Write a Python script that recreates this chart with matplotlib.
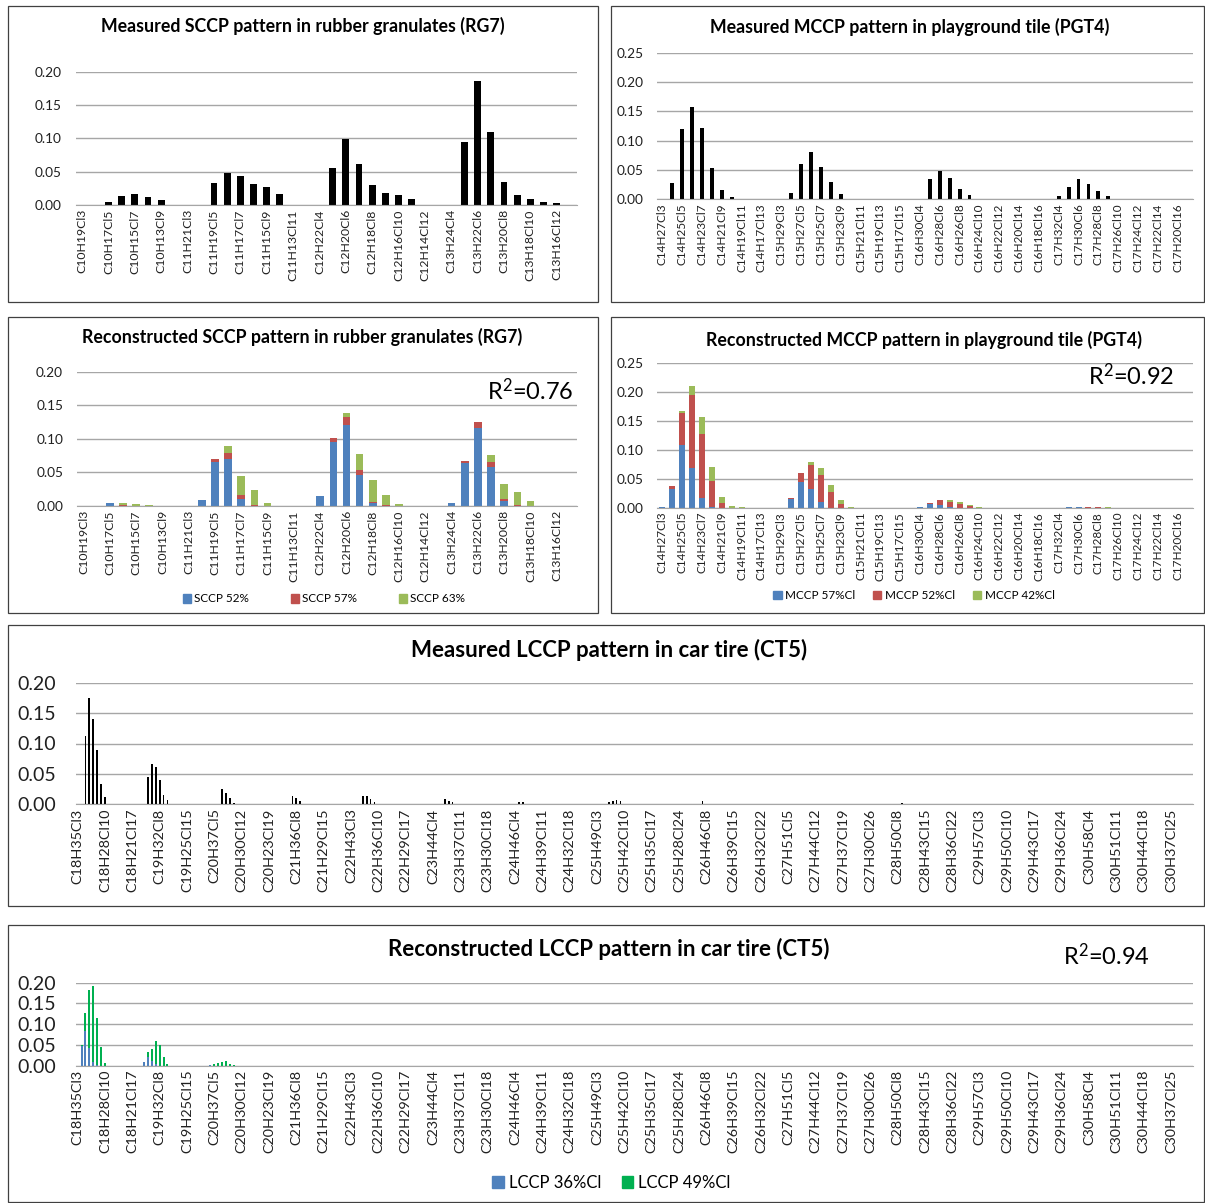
import matplotlib
matplotlib.use("Agg")
import matplotlib.pyplot as plt
from matplotlib.patches import Rectangle, Patch
import numpy as np

W, H = 1205, 1203
plt.rcParams["font.family"] = ["Lato", "DejaVu Sans"]
plt.rcParams["mathtext.fontset"] = "custom"
plt.rcParams["mathtext.rm"] = "Lato"
plt.rcParams["mathtext.it"] = "Lato"

# ---- data, keyed by chain length: (first Cl number, values)
sccp_measured = {
    10: (5, [0.005, 0.0135, 0.0165, 0.0115, 0.0075]),
    11: (5, [0.0325, 0.0485, 0.043, 0.031, 0.027, 0.017]),
    12: (5, [0.055, 0.099, 0.061, 0.030, 0.018, 0.0145, 0.009]),
    13: (5, [0.094, 0.1855, 0.109, 0.034, 0.015, 0.009, 0.005, 0.003]),
}
sccp52 = {
    10: (5, [0.0045]),
    11: (4, [0.009, 0.066, 0.070, 0.010]),
    12: (4, [0.015, 0.096, 0.1205, 0.0457, 0.004]),
    13: (4, [0.004, 0.064, 0.1156, 0.0576, 0.007]),
}
sccp57 = {
    10: (6, [0.001]),
    11: (5, [0.004, 0.009, 0.006, 0.001]),
    12: (5, [0.005, 0.012, 0.0083, 0.0025, 0.001]),
    13: (5, [0.003, 0.0094, 0.0084, 0.0034, 0.001]),
}
sccp63 = {
    10: (5, [0.0005, 0.003, 0.0035, 0.0015, 0.0005]),
    11: (6, [0.011, 0.029, 0.023, 0.004, 0.0005]),
    12: (6, [0.0065, 0.0235, 0.032, 0.016, 0.003]),
    13: (7, [0.010, 0.0226, 0.020, 0.0075, 0.0005]),
}

mccp_measured = {
    14: (4, [0.027, 0.120, 0.158, 0.121, 0.053, 0.016, 0.0045]),
    15: (4, [0.011, 0.061, 0.080, 0.0545, 0.030, 0.009]),
    16: (5, [0.034, 0.048, 0.037, 0.018, 0.0068, 0.001]),
    17: (4, [0.005, 0.0216, 0.034, 0.026, 0.0148, 0.0057]),
}
mccp57 = {
    14: (3, [0.001, 0.032, 0.1086, 0.069, 0.017, 0.001]),
    15: (4, [0.015, 0.045, 0.033, 0.0103]),
    16: (4, [0.002, 0.007, 0.005, 0.001]),
    17: (5, [0.0005, 0.0005]),
}
mccp52 = {
    14: (4, [0.005, 0.055, 0.126, 0.1106, 0.045, 0.0086]),
    15: (4, [0.0017, 0.015, 0.041, 0.0467, 0.0264, 0.007]),
    16: (5, [0.001, 0.0076, 0.009, 0.007, 0.0026]),
    17: (6, [0.0005, 0.0012, 0.001]),
}
mccp42 = {
    14: (5, [0.003, 0.015, 0.029, 0.025, 0.0094, 0.003, 0.0005]),
    15: (6, [0.005, 0.011, 0.0126, 0.0056, 0.0017]),
    16: (7, [0.0026, 0.003, 0.002, 0.001]),
    17: (7, [0.0008, 0.001, 0.0005]),
}

lccp_measured = {
    18: (5, [0.113, 0.175, 0.141, 0.0885, 0.033, 0.0115]),
    19: (5, [0.0445, 0.067, 0.061, 0.0396, 0.0154, 0.0066]),
    20: (7, [0.0247, 0.018, 0.0099, 0.0027]),
    21: (7, [0.0143, 0.0104, 0.005]),
    22: (6, [0.0137, 0.0132, 0.0093, 0.0038]),
    23: (7, [0.0088, 0.005, 0.0033]),
    24: (5, [0.003, 0.003]),
    25: (6, [0.003, 0.005, 0.0066, 0.006]),
    26: (7, [0.005]),
    28: (8, [0.0012, 0.0015]),
}
lccp36 = {
    18: (4, [0.047, 0.083, 0.0416, 0.008, 0.0016]),
    19: (4, [0.008, 0.022, 0.0104, 0.003]),
    20: (4, [0.001]),
}
lccp49 = {
    18: (4, [0.0026, 0.044, 0.1414, 0.183, 0.1134, 0.045, 0.0064]),
    19: (5, [0.010, 0.0296, 0.056, 0.0496, 0.0216, 0.003]),
    20: (5, [0.003, 0.0055, 0.009, 0.011, 0.005, 0.0015]),
}


def congeners(c_from, c_to):
    return [f"C{c}H{2 * c + 2 - cl}Cl{cl}" for c in range(c_from, c_to + 1) for cl in range(3, c + 1)]


def fill(cats, groups):
    out = np.zeros(len(cats))
    for c, (cl0, vals) in groups.items():
        for k, v in enumerate(vals):
            cl = cl0 + k
            out[cats.index(f"C{c}H{2 * c + 2 - cl}Cl{cl}")] = v
    return out


sccp_cats = congeners(10, 13)
mccp_cats = congeners(14, 17)
lccp_cats = congeners(18, 30)

BLUE, RED, GREEN = "#4F81BD", "#C0504D", "#9BBB59"
LGREEN = "#00B050"
GRID = "#a6a6a6"

fig = plt.figure(figsize=(W / 100, H / 100), dpi=100)


def box(x0, y0, x1, y1):
    fig.add_artist(Rectangle((x0 / W, 1 - y1 / H), (x1 - x0) / W, (y1 - y0) / H,
                             transform=fig.transFigure, fill=False, edgecolor="#404040", lw=0.9))


def make_ax(x0, x1, ytop, ybot, cats, ymax, step, xfs, yfs, ypad):
    ax = fig.add_axes([x0 / W, 1 - ybot / H, (x1 - x0) / W, (ybot - ytop) / H])
    ax.set_xlim(-0.5, len(cats) - 0.5)
    ax.set_ylim(0, ymax)
    ax.set_yticks(np.arange(0, ymax + 0.001, 0.05))
    ax.yaxis.set_major_formatter(matplotlib.ticker.FormatStrFormatter("%.2f"))
    ax.set_xticks(range(0, len(cats), step))
    ax.set_xticklabels(cats[::step], rotation=90, fontsize=xfs, color="#202020")
    ax.tick_params(axis="y", labelsize=yfs, length=0, pad=ypad, labelcolor="#202020")
    ax.tick_params(axis="x", length=0, pad=3)
    for s in ["top", "right", "left"]:
        ax.spines[s].set_visible(False)
    ax.spines["bottom"].set_color(GRID)
    ax.grid(axis="y", color=GRID, lw=1)
    ax.set_axisbelow(True)
    return ax


def stacked(ax, cats, series, colors, width):
    x = np.arange(len(cats))
    bottom = np.zeros(len(cats))
    for s, c in zip(series, colors):
        v = fill(cats, s)
        ax.bar(x, v, width, bottom=bottom, color=c, edgecolor="none")
        bottom += v


# panel frames
box(8, 6, 598, 302)
box(611, 6, 1204, 302)
box(8, 317, 598, 613)
box(611, 317, 1204, 613)
box(8, 625, 1204, 906)
box(8, 925, 1204, 1202)

# measured SCCP
ax1 = make_ax(75.5, 576.5, 71.7, 205, sccp_cats, 0.20, 2, 8.8, 9.8, 10)
ax1.bar(np.arange(len(sccp_cats)), fill(sccp_cats, sccp_measured), 0.52, color="black")
fig.text(303 / W, 1 - 26 / H, "Measured SCCP pattern in rubber granulates (RG7)",
         ha="center", va="center", fontsize=12.8, fontweight="bold")

# measured MCCP
ax2 = make_ax(657.4, 1192.5, 52.7, 199.3, mccp_cats, 0.25, 2, 8.5, 9.8, 10)
ax2.bar(np.arange(len(mccp_cats)), fill(mccp_cats, mccp_measured), 0.38, color="black")
fig.text(910 / W, 1 - 27 / H, "Measured MCCP pattern in playground tile (PGT4)",
         ha="center", va="center", fontsize=12.8, fontweight="bold")

# reconstructed SCCP
ax3 = make_ax(77, 576.5, 371.7, 506, sccp_cats, 0.20, 2, 8.8, 9.8, 10)
stacked(ax3, sccp_cats, [sccp52, sccp57, sccp63], [BLUE, RED, GREEN], 0.58)
fig.text(302 / W, 1 - 337 / H, "Reconstructed SCCP pattern in rubber granulates (RG7)",
         ha="center", va="center", fontsize=12.8, fontweight="bold")
ax3.text(0.995, 0.86, r"R$^{2}$=0.76", transform=ax3.transAxes, ha="right", va="center", fontsize=17)
ax3.legend(handles=[Patch(color=BLUE, label="SCCP 52%"), Patch(color=RED, label="SCCP 57%"),
                    Patch(color=GREEN, label="SCCP 63%")],
           ncol=3, loc="center", bbox_to_anchor=(324 / W, 1 - 599 / H), bbox_transform=fig.transFigure,
           frameon=False, fontsize=8.5, handlelength=0.7, handleheight=0.7, handletextpad=0.3,
           columnspacing=3.5)

# reconstructed MCCP
ax4 = make_ax(657.4, 1192.5, 362.7, 507.7, mccp_cats, 0.25, 2, 8.5, 9.8, 10)
stacked(ax4, mccp_cats, [mccp57, mccp52, mccp42], [BLUE, RED, GREEN], 0.6)
fig.text(924 / W, 1 - 340 / H, "Reconstructed MCCP pattern in playground tile (PGT4)",
         ha="center", va="center", fontsize=12.8, fontweight="bold")
ax4.text(0.965, 0.91, r"R$^{2}$=0.92", transform=ax4.transAxes, ha="right", va="center", fontsize=17)
ax4.legend(handles=[Patch(color=BLUE, label="MCCP 57%Cl"), Patch(color=RED, label="MCCP 52%Cl"),
                    Patch(color=GREEN, label="MCCP 42%Cl")],
           ncol=3, loc="center", bbox_to_anchor=(914 / W, 1 - 595.7 / H), bbox_transform=fig.transFigure,
           frameon=False, fontsize=8.5, handlelength=0.7, handleheight=0.7, handletextpad=0.3,
           columnspacing=1.5)

# measured LCCP
ax5 = make_ax(75.7, 1192.6, 682.7, 804.3, lccp_cats, 0.20, 7, 10.4, 14, 14)
ax5.bar(np.arange(len(lccp_cats)), fill(lccp_cats, lccp_measured), 0.45, color="black")
fig.text(609 / W, 1 - 650 / H, "Measured LCCP pattern in car tire (CT5)",
         ha="center", va="center", fontsize=16, fontweight="bold")

# reconstructed LCCP
ax6 = make_ax(75.7, 1192.6, 982.7, 1065.7, lccp_cats, 0.20, 7, 10.4, 14, 14)
stacked(ax6, lccp_cats, [lccp36, lccp49], [BLUE, LGREEN], 0.5)
fig.text(609 / W, 1 - 949 / H, "Reconstructed LCCP pattern in car tire (CT5)",
         ha="center", va="center", fontsize=16, fontweight="bold")
fig.text(1150 / W, 1 - 956 / H, r"R$^{2}$=0.94", ha="right", va="center", fontsize=17)
ax6.legend(handles=[Patch(color=BLUE, label="LCCP 36%Cl"), Patch(color=LGREEN, label="LCCP 49%Cl")],
           ncol=2, loc="center", bbox_to_anchor=(611.5 / W, 1 - 1182.7 / H), bbox_transform=fig.transFigure,
           frameon=False, fontsize=12, handlelength=0.7, handleheight=0.7, handletextpad=0.3,
           columnspacing=1.2)

fig.savefig("out.png", dpi=100)
